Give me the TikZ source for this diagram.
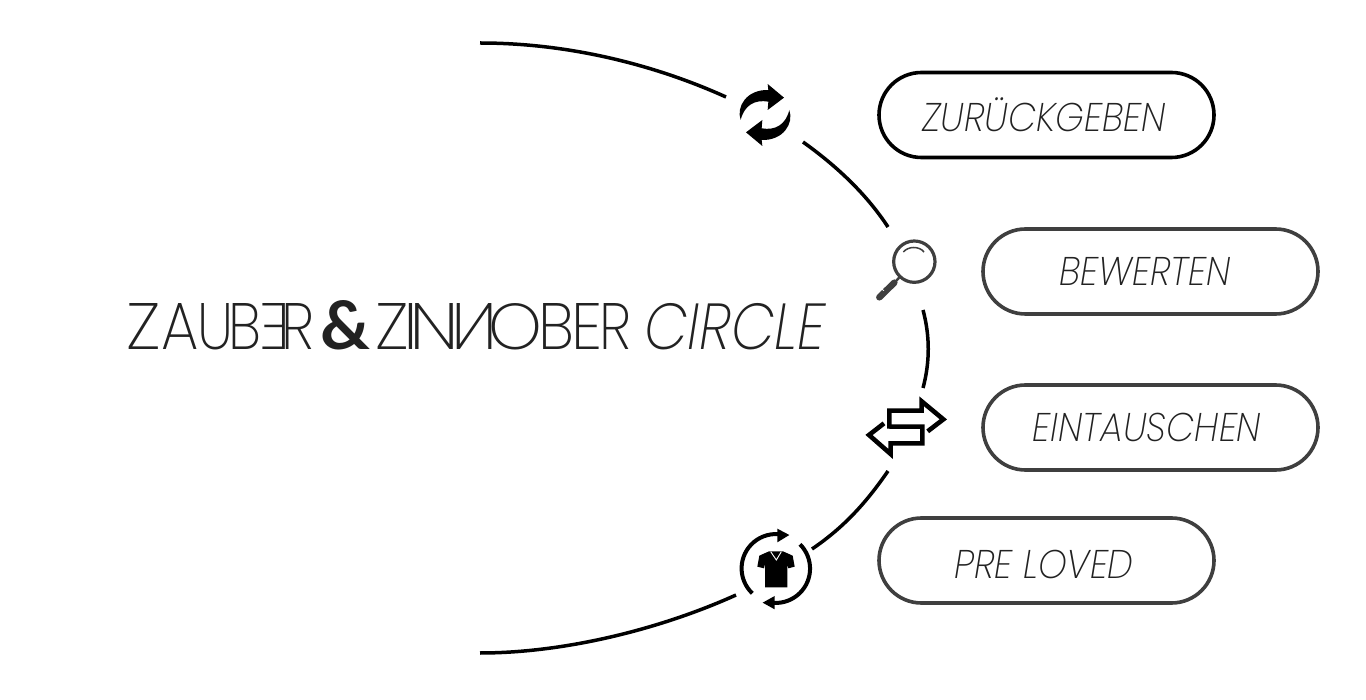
\documentclass[tikz,border=0pt]{standalone}
\usepackage{fontspec}
\usepackage{graphicx}
\usetikzlibrary{shapes.misc}
\newfontfamily\thinfont{Poppins ExtraLight}[ItalicFont={Poppins ExtraLight Italic},FakeStretch=0.91]
\newfontfamily\circlefont{Poppins ExtraLight}[ItalicFont={Poppins ExtraLight Italic},FakeStretch=0.87]
\newfontfamily\plainfont{Poppins ExtraLight}
\newfontfamily\ampfont{Lato}
\definecolor{darkline}{HTML}{3F3F3F}
\definecolor{inktext}{HTML}{222222}
\newcommand\gl[3]{\hbox to 0pt{\kern#1pt\resizebox{#2pt}{46pt}{#3}\hss}}
\newcommand\flipped[1]{\reflectbox{#1}}
\tikzset{
 arcline/.style={line width=3.5pt,black},
 pill/.style={rounded rectangle,draw=darkline,line width=3.6pt,fill=none,inner sep=0pt,minimum width=335pt,minimum height=85pt},
 pilltext/.style={font=\thinfont\itshape\fontsize{40}{44}\selectfont,text=inktext},
 logo/.style={font=\plainfont\fontsize{65}{70}\selectfont,text=inktext,inner sep=0pt,anchor=base west},
 iconthick/.style={line width=4.6pt,black,miter limit=4},
 ringline/.style={line width=4pt,black},
}
\begin{document}
\begin{tikzpicture}[x=1pt,y=-1pt]
\useasboundingbox (0,0) rectangle (1366,700);
\fill[white] (0,0) rectangle (1366,700);
% arc end points
\coordinate (t0) at (480,43);
\coordinate (t1) at (726,97);
\coordinate (r0) at (803,142);
\coordinate (r1) at (888,227);
\coordinate (m0) at (923,310);
\coordinate (m1) at (923,388);
\coordinate (l0) at (888,471);
\coordinate (l1) at (812,549);
\coordinate (b0) at (736,595);
\coordinate (b1) at (480,653);
\draw[arcline] (t0) .. controls (567,43) and (653,64) .. (t1);
\draw[arcline] (r0) .. controls (838,167) and (867,195) .. (r1);
\draw[arcline] (m0) .. controls (930,336) and (930,362) .. (m1);
\draw[arcline] (l0) .. controls (868,500) and (846,526) .. (l1);
\draw[arcline] (b0) .. controls (663,628) and (567,653) .. (b1);
% pills
\node[pill,draw=black] (p1) at (1046.5,115) {};
\node[pilltext] (t1a) at (1044,115) {ZURÜCKGEBEN};
\node[pill] (p2) at (1150.5,271.5) {};
\node[pilltext] (t2a) at (1145,271) {BEWERTEN};
\node[pill] (p3) at (1150.5,427.5) {};
\node[pilltext] (t3a) at (1147,427) {EINTAUSCHEN};
\node[pill] (p4) at (1046.5,560.5) {};
\node[pilltext] (t4a) at (1044,564) {PRE LOVED};
% logo
\node[logo] (w1) at (126,350) {\gl{-0.5}{34.5}{Z}\gl{34.7}{37.3}{A}\gl{71}{36}{U}\gl{102}{33}{B}\gl{133}{31}{\flipped{E}}\gl{155}{33}{R}};
\node[font=\ampfont\bfseries\fontsize{66}{70}\selectfont,inner sep=0pt,anchor=base west,text=inktext] (amp) at (320,350) {\resizebox{50pt}{49pt}{\&}};
\node[logo] (w2) at (375,350) {\gl{-0.5}{33.5}{Z}\gl{28}{15}{I}\gl{34}{50}{N}\gl{76}{46}{\flipped{N}}\gl{113}{54}{O}\gl{163}{36}{B}\gl{196}{31}{E}\gl{224}{32}{R}};
\node[logo,font=\circlefont\itshape\fontsize{65}{70}\selectfont] (w3) at (644,350) {CIRCLE};
% recycle icon
\begin{scope}[shift={(700,60)},scale=1/3]
 \foreach \r in {0,180}{
 \begin{scope}[rotate around={\r:(195,165)}]
 \fill[black] (122,180) .. controls (108,140) and (140,88) .. (205,90) -- (203,72) -- (252,113) -- (203,150) -- (205,125) .. controls (165,118) and (133,135) .. (122,180) -- cycle;
 \end{scope}}
\end{scope}
% magnifier
\begin{scope}[shift={(700,60)},scale=1/3]
 \draw[darkline,line width=3.2pt] (643,605) circle[radius=62];
 \draw[darkline,line width=1.5pt] (610,576) .. controls (625,558) and (658,558) .. (672,576);
 \draw[darkline,line width=2.4pt] (600,650) -- (580,672);
 \draw[darkline,line width=6.5pt,line cap=round] (583,668) -- (538,712);
 \draw[white,line width=.8pt] (552,692) -- (546,688);
\end{scope}
% swap arrows
\begin{scope}[shift={(700,380)},scale=1/3]
 \draw[iconthick,line join=miter] (568,146) -- (568,92) -- (665,92) -- (665,64) -- (730,118) -- (683,154);
 \draw[iconthick,line join=miter] (552,130) -- (507,165) -- (572,222) -- (572,190) -- (667,190) -- (667,140) -- (568,140);
\end{scope}
% shirt icon
\begin{scope}[shift={(700,380)},scale=1/3]
 \draw[ringline] (157,640) arc[start angle=133.4,end angle=274,radius=103];
 \fill[black] (268,465) -- (232,446) -- (232,487) -- cycle;
 \draw[ringline] (300,493) arc[start angle=-45,end angle=93,radius=103];
 \fill[black] (188,668) -- (224,648) -- (224,688) -- cycle;
 \fill[black] (207,514) -- (178,527) -- (172,560) -- (192,565) -- (195,552) -- (195,622) -- (262,622) -- (262,552) -- (265,565) -- (284,560) -- (278,527) -- (249,514) -- cycle;
 \draw[white,line width=.9pt] (212,515) -- (229,540) -- (244,515);
\end{scope}
\end{tikzpicture}
\end{document}
